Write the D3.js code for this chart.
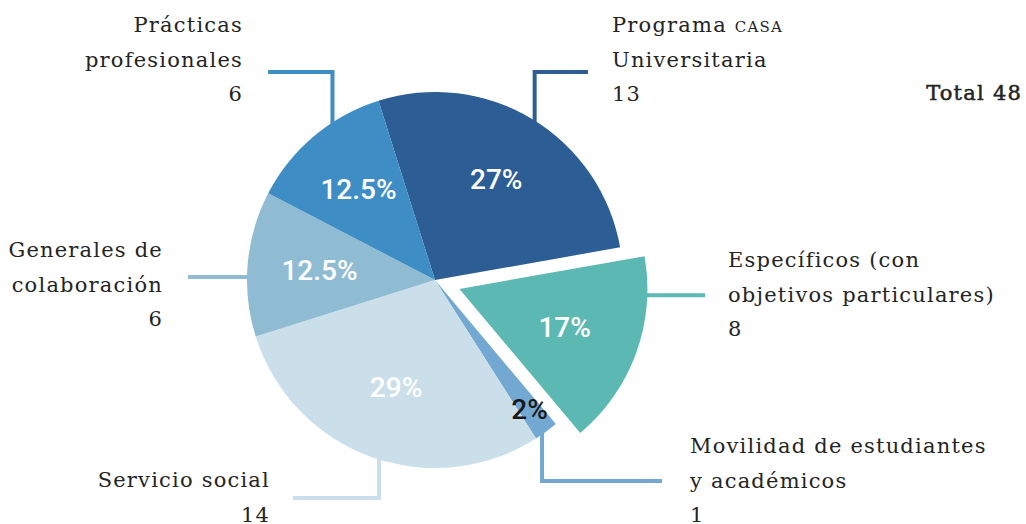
<!DOCTYPE html>
<html lang="es">
<head>
<meta charset="UTF-8">
<title>Convenios por tipo</title>
<script src="https://cdn.jsdelivr.net/npm/d3@7"></script>
<style>
  body { margin: 0; background: #fff; }
  svg { display: block; }
  .name { font-family: "DejaVu Serif", serif; font-size: 21px; letter-spacing: 1.2px; fill: #242424; }
  .pct { font-family: Roboto, sans-serif; font-weight: 500; font-size: 28px; }
  .leader { fill: none; stroke-width: 4px; stroke-linejoin: miter; }
</style>
</head>
<body>
<svg width="1026" height="524"></svg>
<script>
// data
const categories = [
    ["Programa CASA", "Universitaria"],
    ["Específicos (con", "objetivos particulares)"],
    ["Movilidad de estudiantes", "y académicos"],
    ["Servicio social"],
    ["Generales de", "colaboración"],
    ["Prácticas", "profesionales"]
];
const values = [13, 8, 1, 14, 6, 6];
const percentLabels = ["27%", "17%", "2%", "29%", "12.5%", "12.5%"];
const totalLabel = "Total";
const totalValue = 48;
const colors = ["#2d5d95", "#5cb8b3", "#73a8d2", "#cadfea", "#90bcd3", "#3e8dc4"];

// layout
const cx = 435, cy = 280, R = 188;
const startDeg = -17.5;
const explodeIndex = 1, explodeDist = 26;
const lineH = 34.5;

// leader lines: where on the slice edge (fraction of slice), and elbow target
const leaders = [
    { f: 0.52, toY: 72, toX: 588 },
    { f: 0.2, toX: 705 },
    { f: 0.53, toY: 481, toX: 662 },
    { f: 0.48, toY: 498, toX: 293 },
    { f: 0.41, toX: 188 },
    { f: 0.627, toY: 72, toX: 268 }
];
// text blocks
const blocks = [
    { x: 612, y: 32, anchor: "start" },
    { x: 728, y: 267, anchor: "start" },
    { x: 690, y: 453, anchor: "start" },
    { x: 270, y: 487, anchor: "end" },
    { x: 163, y: 257, anchor: "end" },
    { x: 243, y: 32, anchor: "end" }
];
// percent label placement
const pctR = [118, 112, 160, 114, 116, 119];
const pctColor = ["#fff", "#fff", "#1a1a1a", "#fff", "#fff", "#fff"];

const svg = d3.select("svg");
const rad = Math.PI / 180;

const pie = d3.pie().sort(null).value(d => d)
    .startAngle(startDeg * rad).endAngle((startDeg + 360) * rad);
const arcs = pie(values);
const arc = d3.arc().innerRadius(0).outerRadius(R);

function offset(d, i) {
    if (i !== explodeIndex) return [0, 0];
    const m = (d.startAngle + d.endAngle) / 2;
    return [Math.sin(m) * explodeDist, -Math.cos(m) * explodeDist];
}

const g = svg.append("g").attr("transform", `translate(${cx},${cy})`);

// leader lines (behind the pie)
g.selectAll("path.leader")
    .data(arcs)
    .enter()
    .append("path")
    .attr("class", "leader")
    .attr("stroke", (d, i) => colors[i])
    .attr("d", (d, i) => {
        const L = leaders[i];
        const a = d.startAngle + L.f * (d.endAngle - d.startAngle);
        const o = offset(d, i);
        const ax = o[0] + Math.sin(a) * (R - 6);
        const ay = o[1] - Math.cos(a) * (R - 6);
        if (L.toY === undefined) {
            return `M${ax},${ay}L${L.toX - cx},${ay}`;
        }
        return `M${ax},${ay}L${ax},${L.toY - cy}L${L.toX - cx},${L.toY - cy}`;
    });

// slices
g.selectAll("path.slice")
    .data(arcs)
    .enter()
    .append("path")
    .attr("class", "slice")
    .attr("fill", (d, i) => colors[i])
    .attr("transform", (d, i) => `translate(${offset(d, i)})`)
    .attr("d", arc);

// percentages
g.selectAll("text.pct")
    .data(arcs)
    .enter()
    .append("text")
    .attr("class", "pct")
    .attr("text-anchor", "middle")
    .attr("dy", "0.36em")
    .attr("fill", (d, i) => pctColor[i])
    .attr("x", (d, i) => {
        const m = (d.startAngle + d.endAngle) / 2;
        return offset(d, i)[0] + Math.sin(m) * pctR[i];
    })
    .attr("y", (d, i) => {
        const m = (d.startAngle + d.endAngle) / 2;
        return offset(d, i)[1] - Math.cos(m) * pctR[i];
    })
    .text((d, i) => percentLabels[i]);

// category labels
categories.forEach((lines, i) => {
    const b = blocks[i];
    const t = svg.append("text")
        .attr("class", "name")
        .attr("text-anchor", b.anchor);
    lines.concat([String(values[i])]).forEach((line, j) => {
        const tl = t.append("tspan").attr("x", b.x).attr("y", b.y + j * lineH);
        line.split(" ").forEach((w, k) => {
            if (w.length > 1 && w === w.toUpperCase() && /[A-Z]/.test(w)) {
                tl.append("tspan").text(k > 0 ? " " : "");
                tl.append("tspan").attr("font-size", 15).text(w);
            } else {
                tl.append("tspan").text((k > 0 ? " " : "") + w);
            }
        });
    });
});

// total
const tt = svg.append("text")
    .attr("class", "name")
    .attr("stroke", "#242424")
    .attr("stroke-width", 0.5)
    .attr("text-anchor", "end")
    .attr("x", 1022)
    .attr("y", 100);
tt.append("tspan").text(totalLabel);
tt.append("tspan").attr("dx", 8).text(totalValue);
</script>
</body>
</html>
